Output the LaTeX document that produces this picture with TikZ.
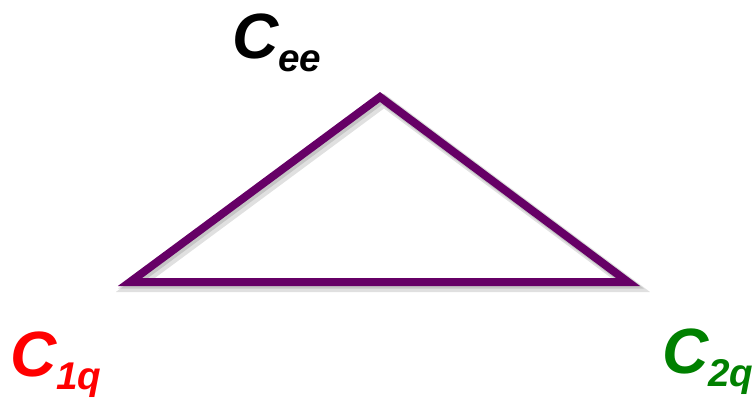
\documentclass[tikz,border=0pt]{standalone}
\usepackage{fontspec}
\setsansfont{Liberation Sans}
\usepackage{xcolor}
\usepackage{tikz}
\definecolor{trianglepurple}{RGB}{102,0,102}
\definecolor{labelgreen}{RGB}{0,128,0}
\newcommand{\clabel}[1]{C\raisebox{-10pt}{\fontsize{29}{31}\selectfont #1}}

\begin{document}
\begin{tikzpicture}[x=0.75pt, y=-0.75pt,
corner/.style={inner sep=0pt, anchor=base west, font=\sffamily\bfseries\itshape\fontsize{48}{52}\selectfont},
edge/.style={draw=trianglepurple, line width=6pt, line join=miter},
shade/.style={draw=black, line width=9pt, opacity=0.12}]
\useasboundingbox (0,0) rectangle (754,408);
\coordinate (top) at (380,97);
\coordinate (left) at (130,282);
\coordinate (right) at (628,282);
% soft shadow under the triangle
\draw[shade, transform canvas={shift={(3pt,-3pt)}}] (top) -- (right) -- (left) -- cycle;
\draw[shade, line width=7pt, transform canvas={shift={(1.5pt,-1.5pt)}}] (top) -- (right) -- (left) -- cycle;
\draw[edge] (top) -- (right) -- (left) -- cycle;
\node[corner] (ee) at (232,58) {\clabel{ee}};
\node[corner, text=red] (oneq) at (10,376) {\clabel{1q}};
\node[corner, text=labelgreen] (twoq) at (662,373) {\clabel{2q}};
\end{tikzpicture}
\end{document}
